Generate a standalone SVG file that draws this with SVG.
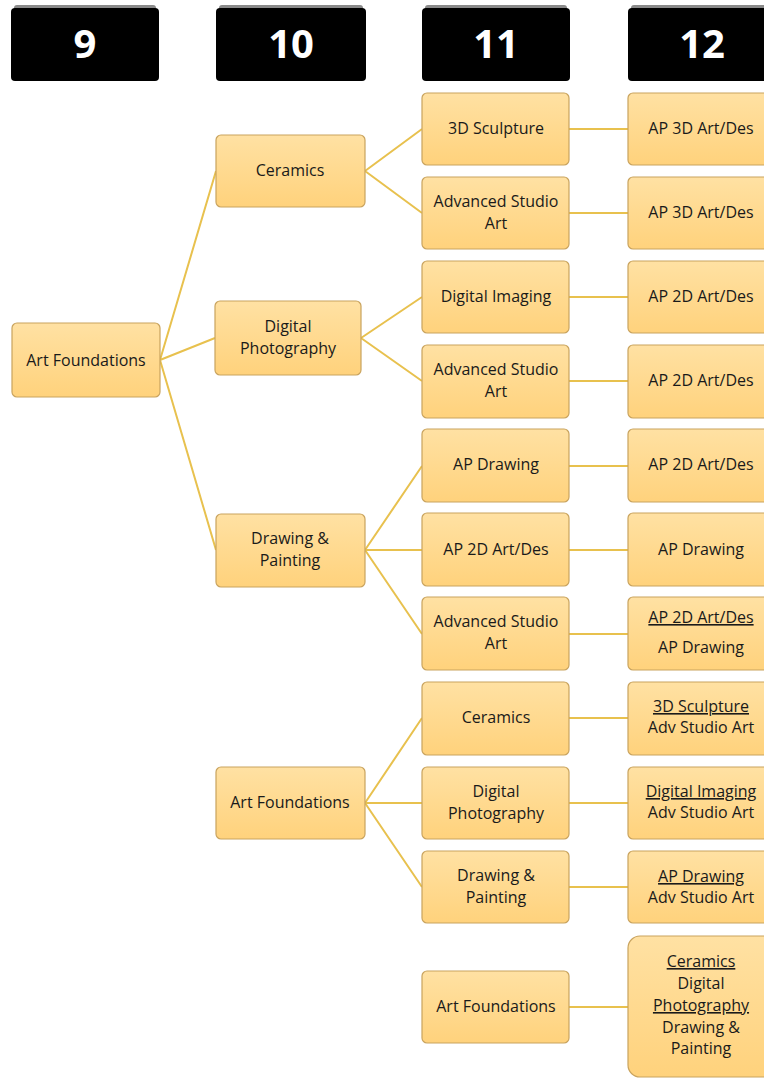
<svg xmlns="http://www.w3.org/2000/svg" width="764" height="1078" viewBox="0 0 764 1078">
<defs>
<linearGradient id="g" x1="0" y1="0" x2="0" y2="1">
<stop offset="0" stop-color="#FFE1A3"/>
<stop offset="1" stop-color="#FFD27C"/>
</linearGradient>
</defs>
<style>
.hd{fill:#000}
.hs{fill:#8a8a8a}
.ht{fill:#fff;font-family:"Open Sans","DejaVu Sans",sans-serif;font-weight:bold;font-size:40px;text-anchor:middle}
.n{fill:url(#g);stroke:#C9A35E;stroke-width:1.2}
.t{fill:#1a1a1a;font-family:"Open Sans","DejaVu Sans",sans-serif;font-size:16px;text-anchor:middle}
.u{text-decoration:underline}
.c{stroke:#E8C14E;stroke-width:2;fill:none}
</style>
<g id="headers">
<g id="h9"><rect class="hs" x="14" y="5" width="142" height="10" rx="3"/><rect class="hd" x="11" y="8" width="148" height="73" rx="4"/><text class="ht" x="85" y="58">9</text></g>
<g id="h10"><rect class="hs" x="219" y="5" width="144" height="10" rx="3"/><rect class="hd" x="216" y="8" width="150" height="73" rx="4"/><text class="ht" x="291" y="58">10</text></g>
<g id="h11"><rect class="hs" x="425" y="5" width="142" height="10" rx="3"/><rect class="hd" x="422" y="8" width="148" height="73" rx="4"/><text class="ht" x="496" y="58">11</text></g>
<g id="h12"><rect class="hs" x="631" y="5" width="142" height="10" rx="3"/><rect class="hd" x="628" y="8" width="148" height="73" rx="4"/><text class="ht" x="702" y="58">12</text></g>
</g>
<g id="connectors">
<path class="c" d="M160 360 L216 171 M160 360 L215 338 M160 360 L216 550"/>
<path class="c" d="M365 171 L422 129 M365 171 L422 213"/>
<path class="c" d="M361 338 L422 297 M361 338 L422 381"/>
<path class="c" d="M365 550 L422 466 M365 550 L422 550 M365 550 L422 634"/>
<path class="c" d="M365 803 L422 718 M365 803 L422 803 M365 803 L422 887"/>
<path class="c" d="M569 129 H628 M569 213 H628 M569 297 H628 M569 381 H628 M569 466 H628 M569 550 H628 M569 634 H628 M569 718 H628 M569 803 H628 M569 887 H628 M569 1007 H628"/>
</g>
<g id="n9"><rect class="n" x="12" y="323" width="148" height="74" rx="5"/><text class="t" x="86" y="366">Art Foundations</text></g>
<g id="n10a"><rect class="n" x="216" y="135" width="149" height="72" rx="5"/><text class="t" x="290" y="176">Ceramics</text></g>
<g id="n10b"><rect class="n" x="215" y="301" width="146" height="74" rx="5"/><text class="t" x="288" y="332">Digital</text><text class="t" x="288" y="354">Photography</text></g>
<g id="n10c"><rect class="n" x="216" y="514" width="149" height="73" rx="5"/><text class="t" x="290" y="544">Drawing &amp;</text><text class="t" x="290" y="566">Painting</text></g>
<g id="n10d"><rect class="n" x="216" y="767" width="149" height="72" rx="5"/><text class="t" x="290" y="808">Art Foundations</text></g>

<g id="n11a"><rect class="n" x="422" y="93" width="147" height="72" rx="5"/><text class="t" x="496" y="134">3D Sculpture</text></g>
<g id="n11b"><rect class="n" x="422" y="177" width="147" height="72" rx="5"/><text class="t" x="496" y="207">Advanced Studio</text><text class="t" x="496" y="229">Art</text></g>
<g id="n11c"><rect class="n" x="422" y="261" width="147" height="72" rx="5"/><text class="t" x="496" y="302">Digital Imaging</text></g>
<g id="n11d"><rect class="n" x="422" y="345" width="147" height="73" rx="5"/><text class="t" x="496" y="375">Advanced Studio</text><text class="t" x="496" y="397">Art</text></g>
<g id="n11e"><rect class="n" x="422" y="429" width="147" height="73" rx="5"/><text class="t" x="496" y="470">AP Drawing</text></g>
<g id="n11f"><rect class="n" x="422" y="513" width="147" height="73" rx="5"/><text class="t" x="496" y="555">AP 2D Art/Des</text></g>
<g id="n11g"><rect class="n" x="422" y="597" width="147" height="73" rx="5"/><text class="t" x="496" y="627">Advanced Studio</text><text class="t" x="496" y="649">Art</text></g>
<g id="n11h"><rect class="n" x="422" y="682" width="147" height="73" rx="5"/><text class="t" x="496" y="723">Ceramics</text></g>
<g id="n11i"><rect class="n" x="422" y="767" width="147" height="72" rx="5"/><text class="t" x="496" y="797">Digital</text><text class="t" x="496" y="819">Photography</text></g>
<g id="n11j"><rect class="n" x="422" y="851" width="147" height="72" rx="5"/><text class="t" x="496" y="881">Drawing &amp;</text><text class="t" x="496" y="903">Painting</text></g>
<g id="n11k"><rect class="n" x="422" y="971" width="147" height="72" rx="5"/><text class="t" x="496" y="1012">Art Foundations</text></g>

<g id="n12a"><rect class="n" x="628" y="93" width="148" height="72" rx="5"/><text class="t" x="701" y="134">AP 3D Art/Des</text></g>
<g id="n12b"><rect class="n" x="628" y="177" width="148" height="72" rx="5"/><text class="t" x="701" y="218">AP 3D Art/Des</text></g>
<g id="n12c"><rect class="n" x="628" y="261" width="148" height="72" rx="5"/><text class="t" x="701" y="302">AP 2D Art/Des</text></g>
<g id="n12d"><rect class="n" x="628" y="345" width="148" height="73" rx="5"/><text class="t" x="701" y="386">AP 2D Art/Des</text></g>
<g id="n12e"><rect class="n" x="628" y="429" width="148" height="73" rx="5"/><text class="t" x="701" y="470">AP 2D Art/Des</text></g>
<g id="n12f"><rect class="n" x="628" y="513" width="148" height="73" rx="5"/><text class="t" x="701" y="555">AP Drawing</text></g>
<g id="n12g"><rect class="n" x="628" y="597" width="148" height="73" rx="5"/><text class="t u" x="701" y="623">AP 2D Art/Des</text><text class="t" x="701" y="653">AP Drawing</text></g>
<g id="n12h"><rect class="n" x="628" y="682" width="148" height="73" rx="5"/><text class="t u" x="701" y="712">3D Sculpture</text><text class="t" x="701" y="733">Adv Studio Art</text></g>
<g id="n12i"><rect class="n" x="628" y="767" width="148" height="72" rx="5"/><text class="t u" x="701" y="797">Digital Imaging</text><text class="t" x="701" y="818">Adv Studio Art</text></g>
<g id="n12j"><rect class="n" x="628" y="851" width="148" height="72" rx="5"/><text class="t u" x="701" y="882">AP Drawing</text><text class="t" x="701" y="903">Adv Studio Art</text></g>
<g id="n12k"><rect class="n" x="628" y="936" width="148" height="141" rx="12"/><text class="t u" x="701" y="967">Ceramics</text><text class="t" x="701" y="989">Digital</text><text class="t u" x="701" y="1011">Photography</text><text class="t" x="701" y="1033">Drawing &amp;</text><text class="t" x="701" y="1054">Painting</text></g>
</svg>
